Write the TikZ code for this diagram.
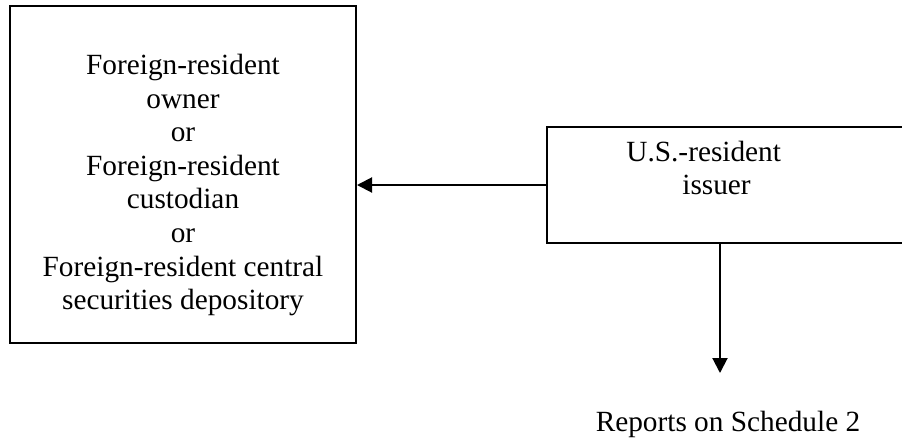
\documentclass[tikz,border=0pt]{standalone}
\usepackage{fontspec}
\setmainfont{Liberation Serif}
\usetikzlibrary{arrows.meta}
\tikzset{frame/.style={draw,line width=1pt,inner sep=0pt},
         arr/.style={line width=1pt,-{Triangle[length=7.5pt,width=7.5pt]}},
         txt/.style={inner sep=0pt,font=\fontsize{14.65}{16.8}\selectfont}}

\begin{document}
\begin{tikzpicture}[x=0.5pt,y=-0.5pt]
\clip (0,0) rectangle (902,441);
\node [frame,minimum width=173pt,minimum height=168.5pt] (foreign) at (183,174.5) {};
\node [txt,align=center] (foreigntext) at (183,185) {Foreign-resident\\owner\\or\\Foreign-resident\\custodian\\or\\Foreign-resident central\\securities depository};
\node [frame,minimum width=186.5pt,minimum height=58pt] (issuer) at (733.5,185) {};
\node [txt,align=left,anchor=west] (issuertext) at (626,168) {U.S.-resident\\\hspace*{28pt}issuer};
\coordinate (rep) at (720,373);
\node [txt] (reports) at (728,424) {Reports on Schedule 2};
\draw [arr] (issuer.west) -- (foreign.east |- issuer.west);
\draw [arr] (rep |- issuer.south) -- (rep);
\end{tikzpicture}
\end{document}
